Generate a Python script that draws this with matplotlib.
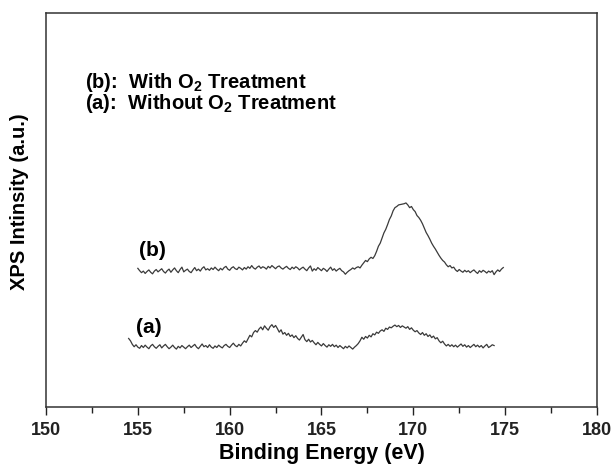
import numpy as np
import matplotlib
matplotlib.use("Agg")
import matplotlib.pyplot as plt
from matplotlib.ticker import MultipleLocator

plt.rcParams['font.family'] = ['Liberation Sans', 'DejaVu Sans']
plt.rcParams['font.weight'] = 'bold'
plt.rcParams['mathtext.fontset'] = 'custom'
plt.rcParams['mathtext.rm'] = 'Liberation Sans:bold'
plt.rcParams['mathtext.bf'] = 'Liberation Sans:bold'
plt.rcParams['mathtext.default'] = 'rm'

# S 2p spectra, 0.1 eV step
b_start, a_start, step = 155.0, 154.5, 0.1

intensity_b = [
    35.2, 34.6, 34.1, 34.5, 33.9, 34.4, 34.8, 34.2, 33.8, 34.5,
    34.9, 34.3, 34.7, 35.1, 34.4, 34.0, 34.6, 35.0, 34.2, 34.8,
    35.3, 34.6, 34.1, 34.9, 35.5, 34.3, 34.7, 35.0, 34.4, 34.1,
    34.8, 35.4, 34.6, 35.0, 34.5, 35.2, 35.6, 34.8, 35.1, 34.7,
    35.3, 34.9, 35.5, 35.0, 34.6, 35.2, 34.8, 35.4, 35.7, 35.0,
    34.7, 35.3, 35.6, 35.1, 34.9, 35.5, 35.2, 34.8, 35.4, 35.0,
    35.6, 35.2, 35.9, 35.3, 35.0, 35.5, 35.8, 35.2, 35.6, 35.4,
    35.0, 35.7, 35.3, 35.9, 35.5, 35.1, 35.6, 35.8, 35.3, 35.0,
    35.4, 35.7, 35.2, 34.9, 35.5, 35.1, 35.6, 35.3, 34.8, 35.2,
    35.5, 35.0, 34.6, 35.3, 35.8, 34.5, 35.1, 34.7, 35.4, 35.0,
    34.6, 35.2, 34.9, 34.4, 35.0, 35.5, 34.7, 35.1, 34.5, 34.9,
    35.2, 34.6, 34.3, 33.7, 34.2, 34.6, 34.9, 35.3, 35.0, 35.4,
    35.6, 35.3, 36.0, 36.6, 37.2, 36.9, 37.6, 38.0, 37.7, 38.4,
    39.5, 40.8, 41.6, 42.9, 44.2, 45.1, 46.3, 47.6, 48.5, 49.8,
    50.6, 50.9, 51.3, 51.4, 51.5, 51.6, 51.8, 51.3, 50.6, 50.9,
    50.1, 49.6, 48.6, 48.1, 47.4, 46.5, 45.4, 44.3, 43.5, 42.6,
    41.6, 40.8, 40.1, 39.3, 38.5, 37.8, 37.2, 36.8, 36.1, 35.6,
    35.9, 35.3, 35.5, 34.8, 34.4, 34.9, 34.5, 34.2, 34.7, 34.3,
    34.6, 34.1, 34.5, 34.8, 34.3, 33.9, 34.6, 34.2, 34.7, 34.4,
    34.0, 34.5, 34.2, 34.6, 33.6, 34.3, 34.8, 34.4, 35.0, 35.4,
]

intensity_a = [
    17.4, 16.8, 15.9, 15.3, 15.8, 15.2, 14.9, 15.6, 15.1, 15.7,
    15.2, 14.8, 15.5, 15.9, 15.3, 14.9, 15.4, 15.8, 15.0, 15.5,
    15.9, 15.3, 14.8, 15.2, 15.7, 15.1, 14.7, 15.4, 15.0, 15.6,
    15.2, 14.8, 15.3, 15.7, 15.1, 15.5, 15.9, 15.2, 14.8, 15.4,
    16.0, 15.3, 15.6, 15.1, 15.8, 15.2, 14.9, 15.5, 15.1, 15.7,
    15.3, 15.0, 15.6, 15.9, 15.4, 15.1, 15.7, 16.2, 15.6, 15.3,
    15.9, 15.5, 16.2, 16.8, 16.4, 17.3, 18.2, 17.8, 18.9, 19.4,
    19.0, 19.8, 20.3, 19.6, 20.6, 20.0, 19.5, 20.4, 20.9, 20.2,
    20.7, 19.9, 19.0, 19.6, 18.5, 18.9, 18.2, 18.7, 17.9, 18.3,
    17.6, 18.1, 17.4, 17.0, 17.7, 18.4, 17.1, 16.6, 17.2, 16.5,
    16.9, 16.3, 15.8, 16.4, 15.9, 15.5, 16.1, 15.6, 15.2, 15.8,
    15.4, 15.9, 15.3, 15.7, 15.1, 15.6, 15.2, 14.8, 15.4, 15.0,
    15.5, 15.1, 14.7, 15.2, 15.6, 16.1, 16.8, 17.7, 17.2, 17.9,
    17.5, 18.2, 17.8, 18.6, 18.3, 19.0, 18.7, 19.3, 19.6, 19.2,
    20.0, 19.7, 20.3, 20.1, 20.5, 20.8, 20.4, 20.7, 20.2, 20.6,
    20.3, 20.0, 20.4, 19.7, 20.1, 19.5, 19.1, 19.4, 18.8, 18.4,
    18.9, 18.2, 18.6, 17.9, 18.3, 17.6, 18.0, 17.3, 17.6, 16.8,
    16.3, 16.7, 16.0, 15.5, 15.9, 15.4, 15.8, 15.3, 15.7, 15.2,
    15.6, 16.0, 15.4, 15.8, 15.2, 15.6, 15.1, 15.5, 15.9, 15.3,
    15.7, 15.2, 15.6, 15.0, 15.5, 15.9, 15.1, 15.4, 15.8, 15.6,
]

energy_b = b_start + step * np.arange(len(intensity_b))
energy_a = a_start + step * np.arange(len(intensity_a))

fig = plt.figure(figsize=(6.11, 4.66), dpi=100)
ax = fig.add_axes([0.0753, 0.1266, 0.9017, 0.8454])

line_color = '#3a3a3a'
ax.plot(energy_b, intensity_b, color=line_color, lw=0.9)
ax.plot(energy_a, intensity_a, color=line_color, lw=0.9)

ax.set_xlim(150, 180)
ax.set_ylim(0, 100)
ax.xaxis.set_major_locator(MultipleLocator(5))
ax.xaxis.set_minor_locator(MultipleLocator(2.5))
ax.tick_params(axis='x', which='major', direction='out', length=6, width=1,
               labelsize=13, pad=5, colors='#222222')
ax.tick_params(axis='x', which='minor', direction='out', length=4, width=1,
               colors='#222222')
ax.set_yticks([])
for lab in ax.get_xticklabels():
    lab.set_fontweight('bold')

for sp in ax.spines.values():
    sp.set_color('#333333')
    sp.set_linewidth(1.1)

ax.set_xlabel('Binding Energy (eV)', fontsize=15.5, fontweight='bold', labelpad=3)
ax.set_ylabel('XPS Intinsity (a.u.)', fontsize=14.5, fontweight='bold')
ax.yaxis.set_label_coords(-0.031, 0.52)

ax.text(155.8, 39.6, '(b)', fontsize=15, fontweight='bold', ha='center', va='center')
ax.text(155.6, 20.1, '(a)', fontsize=15, fontweight='bold', ha='center', va='center')

ax.text(152.1, 82.4, '(b):  With O$_2$ Treatment', fontsize=14.5, fontweight='bold',
        ha='left', va='center')
ax.text(152.1, 77.0, '(a):  Without O$_2$ Treatment', fontsize=14.5, fontweight='bold',
        ha='left', va='center')

fig.savefig('out.png', dpi=100)
